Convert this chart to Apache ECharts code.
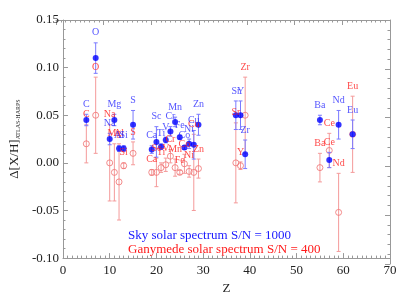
<!DOCTYPE html>
<html>
<head>
<meta charset="utf-8">
<script src="https://cdn.jsdelivr.net/npm/echarts@6/dist/echarts.min.js"></script>
<style>html,body{margin:0;padding:0;background:#fff}#c{width:407px;height:300px}</style>
</head>
<body>
<div id="c"></div>
<script>
// Element labels and their plotted Z positions
const elements = ['C','O','Na','Mg','Al','Si','S','Ca','Sc','Ti','V','Cr','Mn','Fe','Co','Ni','Cu','Zn','Sr','Y','Zr','Ba','Ce','Nd','Eu'];
const zPos     = [5,7,10,11,12,13,15,19,20,21,22,23,24,25,26,27,28,29,37,38,39,55,57,59,62];
// Sky solar spectrum (S/N = 1000)
const skyVal = [0.045,0.110,0.025,0.045,0.015,0.015,0.040,0.014,0.022,0.017,0.024,0.033,0.043,0.027,0.016,0.020,0.019,0.040,0.050,0.050,0.009,0.045,0.003,0.040,0.030];
const skyErr = [0.006,0.016,0.006,0.006,0.003,0.003,0.015,0.004,0.016,0.003,0.003,0.005,0.005,0.002,0.002,0.005,0.015,0.011,0.015,0.015,0.015,0.005,0.008,0.015,0.015];
// Ganymede solar spectrum (S/N = 400)
const ganVal = [0.020,0.050,0.000,-0.010,-0.020,-0.003,0.010,-0.010,-0.010,-0.005,-0.002,0.007,-0.005,-0.010,-0.001,-0.009,-0.010,-0.006,0.000,-0.003,0.050,-0.005,0.013,-0.052,0.030];
const ganErr = [0.020,0.040,0.040,0.030,0.040,0.003,0.012,0.003,0.015,0.005,0.007,0.007,0.009,0.002,0.010,0.006,0.040,0.010,0.042,0.004,0.040,0.015,0.018,0.041,0.040];
// Axis ticks
const xTicks = {min:0, max:70, interval:10};
const yTicks = {min:-0.10, max:0.15, interval:0.05};
const legendLines = ['Sky solar spectrum S/N = 1000', 'Ganymede solar spectrum S/N = 400'];
const skyLabelsInRed = ['Ce'];

const FONT = 'Liberation Serif';
const BLUE = '#0000ff', BLUE_BAR = '#7a7aff';
const RED = '#ff1a1a', RED_BAR = '#f49a9a', RED_SYM = '#f07070';
const fmtY = v => (Math.abs(v) < 1e-9 ? 0 : v).toFixed(2);

function errData(vals, errs){ return zPos.map((z,i)=>[z, vals[i]-errs[i], vals[i]+errs[i]]); }
function ptData(vals){ return zPos.map((z,i)=>[z, vals[i]]); }
function lblData(vals, errs){ return zPos.map((z,i)=>[z, vals[i]+errs[i], elements[i]]); }

function errSeries(vals, errs, color, z){
  return {
    type:'custom', z:z, silent:true,
    data: errData(vals, errs),
    encode:{x:0, y:[1,2]},
    renderItem:function(params, api){
      const x = api.value(0), lo = api.value(1), hi = api.value(2);
      const p1 = api.coord([x, hi]), p2 = api.coord([x, lo]);
      const w = 2;
      const st = {stroke:color, lineWidth:1};
      return {type:'group', children:[
        {type:'line', shape:{x1:p1[0],y1:p1[1],x2:p2[0],y2:p2[1]}, style:st},
        {type:'line', shape:{x1:p1[0]-w,y1:p1[1],x2:p1[0]+w,y2:p1[1]}, style:st},
        {type:'line', shape:{x1:p2[0]-w,y1:p2[1],x2:p2[0]+w,y2:p2[1]}, style:st}
      ]};
    }
  };
}
function labelSeries(vals, errs, color, altColor, altList){
  return {
    type:'scatter', symbolSize:0, silent:true, z:10,
    data: lblData(vals, errs).map(d => ({
      value:d,
      label: altList && altList.indexOf(d[2])>=0 ? {color:altColor} : undefined
    })),
    label:{show:true, position:'top', distance:5, formatter:p=>p.data.value[2],
           color:color, fontFamily:FONT, fontSize:10}
  };
}

const axisCommon = {
  axisLine:{show:true, onZero:false, lineStyle:{color:'#999', width:1}},
  axisTick:{show:true, inside:true, length:5, lineStyle:{color:'#999'}},
  splitLine:{show:false}
};
const xMinor = {minorTick:{show:true, splitNumber:10, length:2.5, lineStyle:{color:'#999'}}};
const yMinor = {minorTick:{show:true, splitNumber:5, length:2.5, lineStyle:{color:'#999'}}};
const gridBox = {left:56, right:17, top:20, bottom:36};

const chart = echarts.init(document.getElementById('c'), null, {renderer:'canvas'});
chart.setOption({
  animation:false,
  backgroundColor:'#fff',
  grid:[Object.assign({}, gridBox), Object.assign({}, gridBox)],
  xAxis:[
    Object.assign({type:'value', gridIndex:0, position:'bottom', min:xTicks.min, max:xTicks.max, interval:xTicks.interval,
      name:'Z', nameLocation:'middle', nameGap:19,
      nameTextStyle:{fontFamily:FONT, fontSize:13, color:'#222'},
      axisLabel:{fontFamily:FONT, fontSize:13, color:'#222', margin:6}}, axisCommon, xMinor),
    Object.assign({type:'value', gridIndex:1, position:'top', min:xTicks.min, max:xTicks.max, interval:xTicks.interval,
      axisLabel:{show:false}}, axisCommon, xMinor)
  ],
  yAxis:[
    Object.assign({type:'value', gridIndex:0, position:'left', min:yTicks.min, max:yTicks.max, interval:yTicks.interval,
      name:'{a|Δ[X/H]}{b|ATLAS-HARPS}', nameLocation:'middle', nameGap:34,
      nameTextStyle:{fontFamily:FONT, color:'#222',
        rich:{a:{fontFamily:FONT, fontSize:13, color:'#222'},
              b:{fontFamily:FONT, fontSize:6, color:'#222', verticalAlign:'bottom', padding:[6,0,0,0]}}},
      axisLabel:{fontFamily:FONT, fontSize:13, color:'#222', margin:4, showMinLabel:true,
        formatter:v => Math.abs(v - yTicks.max) < 1e-9 ? '' : fmtY(v)}}, axisCommon, yMinor),
    Object.assign({type:'value', gridIndex:1, position:'right', min:yTicks.min, max:yTicks.max, interval:yTicks.interval,
      axisLabel:{show:false}}, axisCommon, yMinor)
  ],
  series:[
    errSeries(ganVal, ganErr, RED_BAR, 2),
    {type:'scatter', z:3, silent:true, symbol:'circle', symbolSize:6, data:ptData(ganVal),
     itemStyle:{color:'rgba(0,0,0,0)', borderColor:RED_SYM, borderWidth:1}},
    errSeries(skyVal, skyErr, BLUE_BAR, 4),
    {type:'scatter', z:5, silent:true, symbol:'circle', symbolSize:6, data:ptData(skyVal),
     itemStyle:{color:BLUE}},
    labelSeries(ganVal, ganErr, RED),
    labelSeries(skyVal, skyErr, '#2a2aff', RED, skyLabelsInRed)
  ],
  graphic:[
    {id:'leg0', type:'text', left:128, top:229, style:{text:legendLines[0], fill:'#1a1aff', font:'13px "Liberation Serif"'}},
    {id:'leg1', type:'text', left:128, top:243, style:{text:legendLines[1], fill:RED, font:'13px "Liberation Serif"'}}
  ]
});

// Top y tick label, placed at the axis' own pixel position for the max tick value.
(function addTopLabel(){
  const py = chart.convertToPixel({yAxisIndex:0}, yTicks.max);
  const px = chart.convertToPixel({xAxisIndex:0}, xTicks.min);
  chart.setOption({graphic:[{id:'ytop', type:'text', z:100, x:px-4, y:py,
    style:{text:fmtY(yTicks.max), align:'right', verticalAlign:'middle', fill:'#222', font:'13px "Liberation Serif"'}}]});
})();
</script>
</body>
</html>
